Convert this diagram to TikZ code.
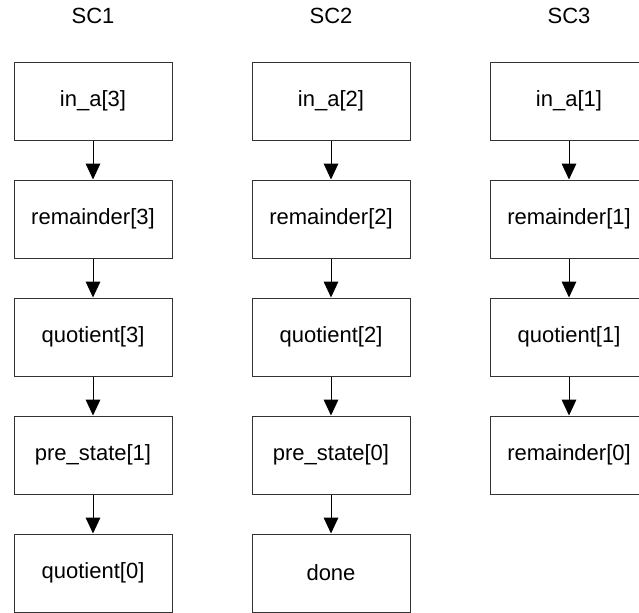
\documentclass[tikz,border=0pt]{standalone}
\usepackage{fontspec}
\setmainfont{Liberation Sans}
\usetikzlibrary{arrows.meta}
\begin{document}
\begin{tikzpicture}[x=0.75pt, y=-0.75pt,
  stepbox/.style={draw=black!80, line width=0.75pt, minimum width=118.5pt,
    minimum height=58.5pt, inner sep=0pt, font=\fontsize{16.5pt}{19pt}\selectfont},
  coltitle/.style={anchor=base, inner sep=0pt, font=\fontsize{16.5pt}{19pt}\selectfont},
  flow/.style={draw=black, line width=0.75pt, -{Triangle[length=12pt, width=11pt]}}]
\useasboundingbox (0,0) rectangle (639,612);
\clip (0,0) rectangle (639,612);

% column titles
\node[coltitle] (t1) at (93,23) {SC1};
\node[coltitle] (t2) at (331,23) {SC2};
\node[coltitle] (t3) at (569,23) {SC3};

% column SC1
\node[stepbox] (a1) at (93,101) {in\_a[3]};
\node[stepbox] (a2) at (93,219) {remainder[3]};
\node[stepbox] (a3) at (93,337) {quotient[3]};
\node[stepbox] (a4) at (93,455) {pre\_state[1]};
\node[stepbox] (a5) at (93,573) {quotient[0]};

% column SC2
\node[stepbox] (b1) at (331,101) {in\_a[2]};
\node[stepbox] (b2) at (331,219) {remainder[2]};
\node[stepbox] (b3) at (331,337) {quotient[2]};
\node[stepbox] (b4) at (331,455) {pre\_state[0]};
\node[stepbox] (b5) at (331,573) {done};

% column SC3
\node[stepbox] (c1) at (569,101) {in\_a[1]};
\node[stepbox] (c2) at (569,219) {remainder[1]};
\node[stepbox] (c3) at (569,337) {quotient[1]};
\node[stepbox] (c4) at (569,455) {remainder[0]};

% sequencing arrows
\draw[flow] (a1) -- (a2);
\draw[flow] (a2) -- (a3);
\draw[flow] (a3) -- (a4);
\draw[flow] (a4) -- (a5);
\draw[flow] (b1) -- (b2);
\draw[flow] (b2) -- (b3);
\draw[flow] (b3) -- (b4);
\draw[flow] (b4) -- (b5);
\draw[flow] (c1) -- (c2);
\draw[flow] (c2) -- (c3);
\draw[flow] (c3) -- (c4);
\end{tikzpicture}
\end{document}
